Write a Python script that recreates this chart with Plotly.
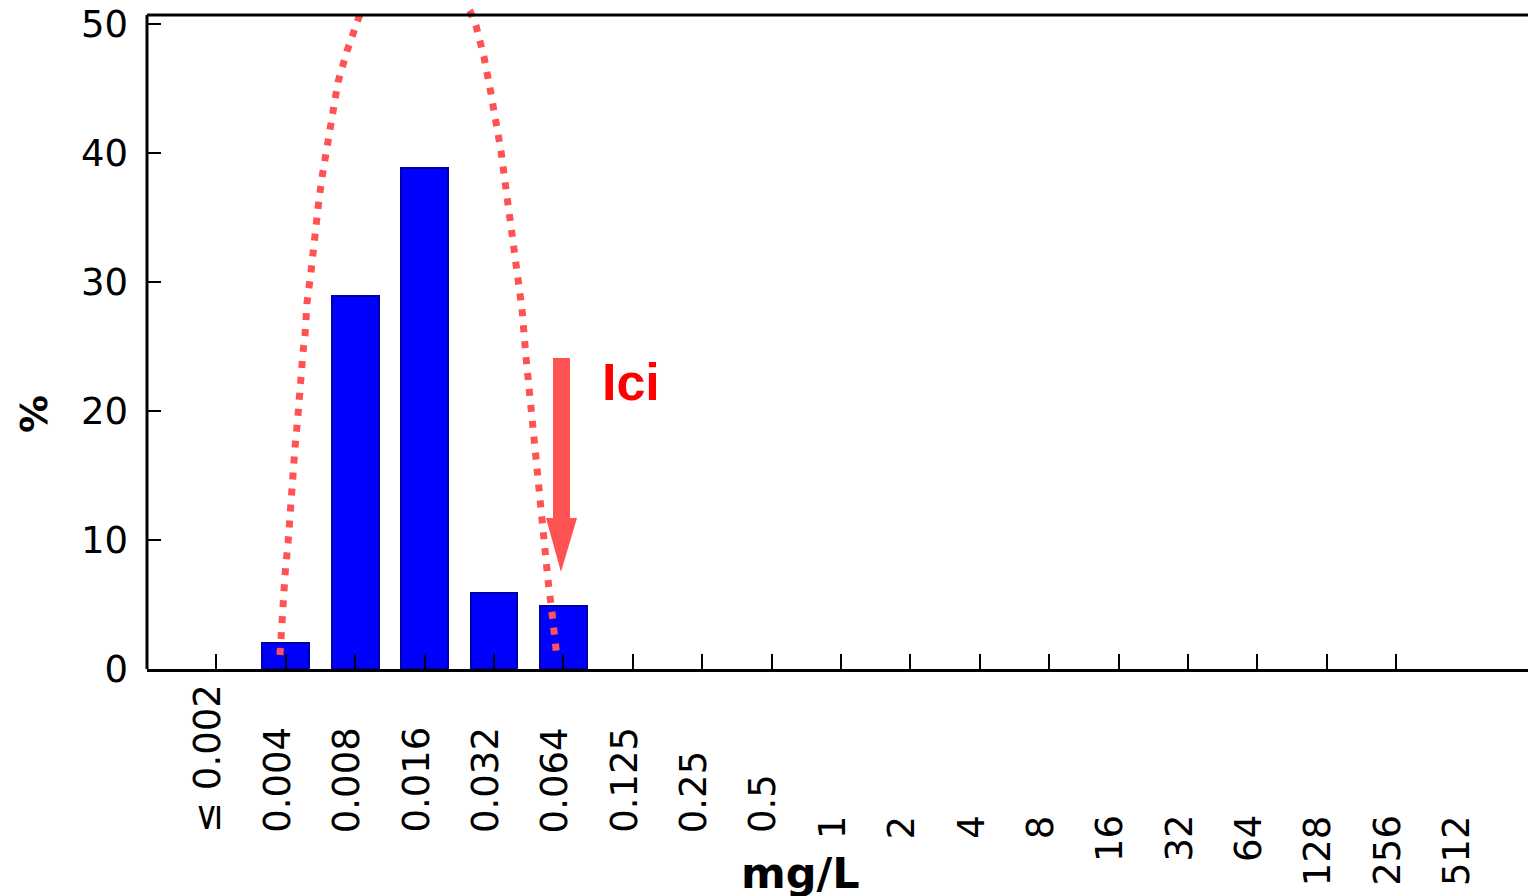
import plotly.graph_objects as go

# ---- data ----
categories = ["≤ 0.002", "0.004", "0.008", "0.016", "0.032", "0.064", "0.125", "0.25",
              "0.5", "1", "2", "4", "8", "16", "32", "64", "128", "256", "512"]
mic_values = [0.002, 0.004, 0.008, 0.016, 0.032, 0.064, 0.125, 0.25,
              0.5, 1, 2, 4, 8, 16, 32, 64, 128, 256, 512]
percent = [0, 2.0, 28.9, 38.8, 5.9, 4.9, 0, 0, 0, 0, 0, 0, 0, 0, 0, 0, 0, 0, 0]
y_ticks = [0, 10, 20, 30, 40, 50]

# hand-drawn dotted distribution curve (category index, %)
curve_left_x = [0.916, 0.945, 0.988, 1.032, 1.061, 1.104, 1.133, 1.176, 1.205, 1.248, 1.277,
                1.305, 1.363, 1.406, 1.464, 1.522, 1.594, 1.666, 1.752, 1.882, 2.026, 2.156]
curve_left_y = [1.08, 4.80, 7.28, 9.76, 12.24, 14.72, 17.20, 19.68, 22.16, 24.56, 25.88,
                28.36, 30.76, 33.24, 35.72, 38.12, 40.60, 43.08, 45.49, 47.89, 50.29, 52.07]
curve_right_x = [3.524, 3.654, 3.741, 3.798, 3.856, 3.942, 4.029, 4.101, 4.159, 4.216, 4.274,
                 4.331, 4.403, 4.461, 4.504, 4.548, 4.605, 4.648, 4.692, 4.735, 4.778, 4.836,
                 4.879, 4.908]
curve_right_y = [52.07, 50.99, 49.83, 48.66, 47.42, 45.02, 42.62, 40.14, 37.74, 35.26, 32.78,
                 30.38, 27.90, 24.18, 21.70, 19.22, 16.74, 14.34, 11.78, 9.38, 6.90, 4.34,
                 1.94, 0.85]

# "Ici" arrow (category index, %)
arrow_shaft_x = [4.850, 5.095]
arrow_head_x = [4.749, 5.196, 4.965]
arrow_top_y = 24.10
arrow_head_base_y = 11.70
arrow_tip_y = 7.52

BLUE = "#0000FF"
SALMON = "#FF5252"
FONT = "DejaVu Sans"

idx = list(range(len(categories)))
bar_x = [i for i in idx if percent[i] > 0]
bar_y = [percent[i] for i in idx if percent[i] > 0]

fig = go.Figure()
fig.add_trace(go.Bar(
    x=bar_x, y=bar_y, width=0.677,
    marker=dict(color=BLUE, line=dict(color="#0000A8", width=2)),
    showlegend=False, hoverinfo="skip",
))
fig.add_trace(go.Scatter(
    x=curve_left_x + [None] + curve_right_x,
    y=curve_left_y + [None] + curve_right_y,
    mode="lines", line=dict(color=SALMON, width=7, dash="7px,9px"),
    connectgaps=False, showlegend=False, hoverinfo="skip",
))

TOP = 50.68
shapes = [
    # box: left, top, right
    dict(type="line", xref="paper", yref="y", x0=0, x1=0, y0=0, y1=TOP,
         line=dict(color="black", width=3)),
    dict(type="line", xref="paper", yref="y", x0=0, x1=1, y0=TOP, y1=TOP,
         line=dict(color="black", width=3)),
    dict(type="line", xref="paper", yref="y", x0=0.9995, x1=0.9995, y0=0, y1=TOP,
         line=dict(color="black", width=1.5)),
    # arrow
    dict(type="path", xref="x", yref="y", layer="above",
         path=(f"M {arrow_shaft_x[0]},{arrow_top_y} L {arrow_shaft_x[1]},{arrow_top_y} "
               f"L {arrow_shaft_x[1]},{arrow_head_base_y} L {arrow_head_x[1]},{arrow_head_base_y} "
               f"L {arrow_head_x[2]},{arrow_tip_y} L {arrow_head_x[0]},{arrow_head_base_y} "
               f"L {arrow_shaft_x[0]},{arrow_head_base_y} Z"),
         fillcolor=SALMON, line=dict(width=0)),
]

annotations = []
for i, (lab, v) in enumerate(zip(categories, mic_values)):
    if v < 1:
        annotations.append(dict(x=i, y=0, xref="x", yref="paper", text=lab, showarrow=False,
                                textangle=-90, xanchor="center", yanchor="bottom",
                                xshift=-9, yshift=-166,
                                font=dict(family=FONT, size=37, color="black")))
    else:
        annotations.append(dict(x=i, y=0, xref="x", yref="paper", text=lab, showarrow=False,
                                textangle=-90, xanchor="center", yanchor="top",
                                xshift=-9, yshift=-144,
                                font=dict(family=FONT, size=37, color="black")))

annotations.append(dict(x=0.4705, y=0, xref="paper", yref="paper", text="<b>mg/L</b>",
                        showarrow=False, xanchor="center", yanchor="top", yshift=-177,
                        font=dict(family=FONT, size=43, color="black")))
annotations.append(dict(x=-0.0814, y=19.76, xref="paper", yref="y", text="<b>%</b>",
                        showarrow=False, textangle=-90, xanchor="center", yanchor="middle",
                        font=dict(family=FONT, size=38, color="black")))
annotations.append(dict(x=5.974, y=22.24, xref="x", yref="y", text="<b>Ici</b>",
                        showarrow=False, xanchor="center", yanchor="middle",
                        font=dict(family="Liberation Sans", size=52, color="#FF0000")))

# the page puts the figure 8px from the top-left corner
fig.update_layout(
    width=1528, height=888, autosize=False,
    margin=dict(l=139, r=1, t=0, b=227, pad=0, autoexpand=False),
    paper_bgcolor="white", plot_bgcolor="white",
    shapes=shapes, annotations=annotations,
    xaxis=dict(range=[-1, 19], tickvals=idx[:-1], ticks="inside", ticklen=15, tickwidth=2,
               tickcolor="black", showticklabels=False, showline=True, linewidth=3,
               linecolor="black", showgrid=False, zeroline=False, automargin=False),
    yaxis=dict(range=[0, 51.22], tickvals=y_ticks, ticks="inside", ticklen=14, tickwidth=2,
               tickcolor="black", showline=False, showgrid=False, zeroline=False,
               ticklabelstandoff=18, ticklabeloverflow="allow", automargin=False,
               tickfont=dict(family=FONT, size=37, color="black")),
    bargap=0,
)

fig.write_html("out.html")
